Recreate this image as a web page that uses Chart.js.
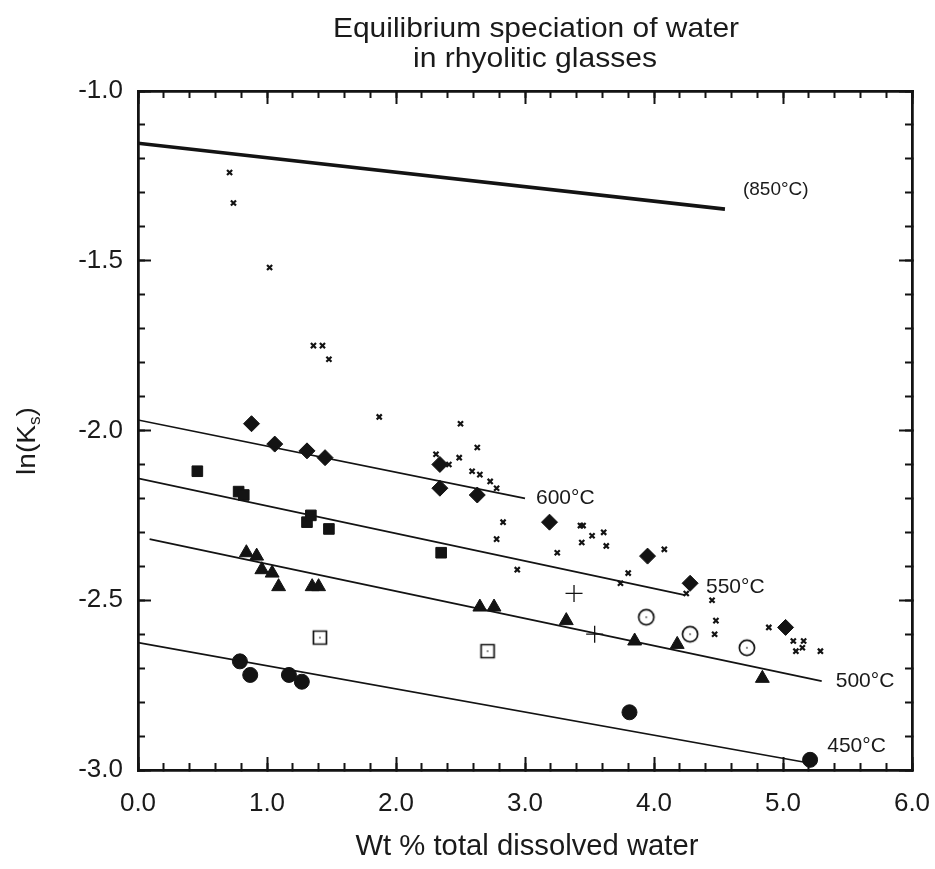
<!DOCTYPE html>
<html>
<head>
<meta charset="utf-8">
<title>Equilibrium speciation of water in rhyolitic glasses</title>
<script src="https://cdn.jsdelivr.net/npm/chart.js"></script>
<style>
  body { margin: 0; background: #fff; }
  #ks-chart { display: block; }
</style>
</head>
<body>
<canvas id="ks-chart" width="935" height="869"></canvas>
<script>
const titleLines = ['Equilibrium speciation of water', 'in rhyolitic glasses'];
const xTitle = 'Wt % total dissolved water';

// isotherm fits (two end points each)
const fitLabels = ['(850°C)', '600°C', '550°C', '500°C', '450°C'];
const fitX = [[0, 4.55], [0, 3.0], [0, 4.24], [0.09, 5.30], [0, 5.18]];
const fitY = [[-1.154, -1.348], [-1.969, -2.20], [-2.141, -2.485], [-2.32, -2.738], [-2.625, -2.978]];

// filled diamonds
const diamondX = [0.88, 1.06, 1.31, 1.45, 2.34, 2.34, 2.63, 3.19, 3.95, 4.28, 5.02];
const diamondY = [-1.98, -2.04, -2.06, -2.08, -2.10, -2.17, -2.19, -2.27, -2.37, -2.45, -2.58];

// filled squares
const squareX = [0.46, 0.78, 0.82, 1.31, 1.34, 1.48, 2.35];
const squareY = [-2.12, -2.18, -2.19, -2.27, -2.25, -2.29, -2.36];

// filled triangles
const triangleX = [0.84, 0.92, 0.96, 1.04, 1.09, 1.35, 1.40, 2.65, 2.76, 3.32, 3.85, 4.18, 4.84];
const triangleY = [-2.36, -2.37, -2.41, -2.42, -2.46, -2.46, -2.46, -2.52, -2.52, -2.56, -2.62, -2.63, -2.73];

// filled circles
const circleX = [0.79, 0.87, 1.17, 1.27, 3.81, 5.21];
const circleY = [-2.68, -2.72, -2.72, -2.74, -2.83, -2.97];

// open squares / open circles / plus signs
const openSquareX = [1.41, 2.71];
const openSquareY = [-2.61, -2.65];
const openCircleX = [3.94, 4.28, 4.72];
const openCircleY = [-2.55, -2.60, -2.64];
const plusX = [3.38, 3.54];
const plusY = [-2.48, -2.60];

// small x marks
const crossX = [0.71, 0.74, 1.02, 1.36, 1.43, 1.48, 1.87, 2.50, 2.63, 2.31, 2.49, 2.41, 2.59, 2.65,
    2.73, 2.78, 2.83, 2.78, 2.94, 3.43, 3.45, 3.52, 3.61, 3.44, 3.63, 3.25, 4.08, 3.80, 3.74,
    4.25, 4.45, 4.48, 4.47, 4.89, 5.08, 5.16, 5.10, 5.15, 5.29];
const crossY = [-1.24, -1.33, -1.52, -1.75, -1.75, -1.79, -1.96, -1.98, -2.05, -2.07, -2.08, -2.10, -2.12, -2.13,
    -2.15, -2.17, -2.27, -2.32, -2.41, -2.28, -2.28, -2.31, -2.30, -2.33, -2.34, -2.36, -2.35, -2.42, -2.45,
    -2.48, -2.50, -2.56, -2.60, -2.58, -2.62, -2.62, -2.65, -2.64, -2.65];

const FONT = '"Liberation Sans", Arial, Helvetica, sans-serif';
const INK = '#131313';

function toPoints(xs, ys) {
    return xs.map((x, i) => ({ x: x, y: ys[i] }));
}

function openMarker(shape) {
    const c = document.createElement('canvas');
    c.width = 20;
    c.height = 20;
    const g = c.getContext('2d');
    g.strokeStyle = INK;
    g.lineWidth = 1.7;
    g.fillStyle = '#fff';
    g.beginPath();
    if (shape === 'circle') {
        g.arc(10, 10, 7.6, 0, Math.PI * 2);
    } else {
        g.rect(3.5, 3.5, 13, 13);
    }
    g.fill();
    g.stroke();
    g.fillStyle = '#555';
    g.beginPath();
    g.arc(10, 10, 0.9, 0, Math.PI * 2);
    g.fill();
    return c;
}

function markerSet(xs, ys, style, radius, extra) {
    return Object.assign({
        data: toPoints(xs, ys),
        pointStyle: style,
        pointRadius: radius,
        backgroundColor: INK,
        borderColor: INK,
        borderWidth: 1,
        showLine: false
    }, extra || {});
}

function fitSet(i) {
    return {
        data: toPoints(fitX[i], fitY[i]),
        showLine: true,
        borderColor: INK,
        borderWidth: i === 0 ? 3.6 : 1.7,
        pointRadius: 0
    };
}

// one linear axis; major/minor tick sets are separate axes so the lengths can differ
function makeAxis(position, min, max, step, tickLength, weight, size, labels, pad) {
    const vertical = position === 'left' || position === 'right';
    return {
        type: 'linear',
        position: position,
        min: min,
        max: max,
        weight: weight,
        grid: {
            drawOnChartArea: false,
            drawTicks: true,
            tickLength: tickLength,
            tickWidth: 2,
            color: INK,
            tickColor: INK
        },
        border: { display: true, color: INK, width: 2.5 },
        ticks: {
            display: labels,
            stepSize: step,
            autoSkip: false,
            maxRotation: 0,
            padding: pad || 0,
            color: '#1a1a1a',
            font: { family: FONT, size: 26 },
            callback: value => Number(value).toFixed(1)
        },
        afterFit: scale => {
            if (vertical) {
                scale.width = size;
                scale.paddingTop = 0;
                scale.paddingBottom = 0;
            } else {
                scale.height = size;
                scale.paddingLeft = 0;
                scale.paddingRight = 0;
            }
        }
    };
}

function drawFitted(ctx, text, cx, baseline, size, width) {
    ctx.save();
    ctx.font = size + 'px ' + FONT;
    const w = ctx.measureText(text).width;
    ctx.translate(cx, baseline);
    ctx.scale(width / w, 1);
    ctx.textAlign = 'center';
    ctx.textBaseline = 'alphabetic';
    ctx.fillText(text, 0, 0);
    ctx.restore();
}

const labelPlugin = {
    id: 'labels',
    afterDraw(chart) {
        const ctx = chart.ctx;
        const xs = chart.scales.x;
        const ys = chart.scales.y;
        ctx.save();
        ctx.fillStyle = '#1a1a1a';

        drawFitted(ctx, titleLines[0], 536, 37, 28, 406);
        drawFitted(ctx, titleLines[1], 535, 67, 28, 244);
        drawFitted(ctx, xTitle, 527, 855, 29, 343);

        // y title: ln(K_s), rotated
        ctx.save();
        ctx.translate(35, 441);
        ctx.rotate(-Math.PI / 2);
        ctx.scale(1.08, 1);
        ctx.textBaseline = 'alphabetic';
        ctx.textAlign = 'left';
        const big = '26px ' + FONT;
        const small = '16px ' + FONT;
        ctx.font = big;
        const w1 = ctx.measureText('ln(K').width;
        const w3 = ctx.measureText(')').width;
        ctx.font = small;
        const w2 = ctx.measureText('s').width;
        let px = -(w1 + w2 + w3) / 2;
        ctx.font = big;
        ctx.fillText('ln(K', px, 0);
        px += w1;
        ctx.font = small;
        ctx.fillText('s', px, 5);
        px += w2;
        ctx.font = big;
        ctx.fillText(')', px, 0);
        ctx.restore();

        // isotherm labels next to the line ends
        const offsets = [[18, -19], [11, 0], [21, -8], [14, 0], [21, -16]];
        ctx.textAlign = 'left';
        ctx.textBaseline = 'middle';
        fitLabels.forEach((label, i) => {
            const ex = xs.getPixelForValue(fitX[i][1]);
            const ey = ys.getPixelForValue(fitY[i][1]);
            ctx.font = (i === 0 ? 19 : 21) + 'px ' + FONT;
            ctx.fillText(label, ex + offsets[i][0], ey + offsets[i][1]);
        });
        ctx.restore();
    }
};

let chart;

function initializeChart() {
    const ctx = document.getElementById('ks-chart').getContext('2d');
    chart = new Chart(ctx, {
        type: 'scatter',
        data: {
            datasets: [
                fitSet(0), fitSet(1), fitSet(2), fitSet(3), fitSet(4),
                markerSet(diamondX, diamondY, 'rectRot', 8),
                markerSet(squareX, squareY, 'rect', 7.5),
                markerSet(triangleX, triangleY, 'triangle', 8),
                markerSet(circleX, circleY, 'circle', 7.5),
                markerSet(openSquareX, openSquareY, openMarker('square'), 8),
                markerSet(openCircleX, openCircleY, openMarker('circle'), 8),
                markerSet(plusX, plusY, 'cross', 8.5, { borderWidth: 1.3 }),
                markerSet(crossX, crossY, 'crossRot', 3.6, { borderWidth: 2.2 })
            ]
        },
        options: {
            responsive: false,
            animation: false,
            events: [],
            layout: { padding: { top: 91, right: 23, left: 0, bottom: 0 } },
            plugins: {
                legend: { display: false },
                tooltip: { enabled: false },
                title: { display: false }
            },
            scales: {
                x: makeAxis('bottom', 0, 6, 1, -13, 1, 99, true, 31),
                xMinor: makeAxis('bottom', 0, 6, 0.2, -7, 0, 0, false),
                xTop: makeAxis('top', 0, 6, 1, -13, 1, 0, false),
                xTopMinor: makeAxis('top', 0, 6, 0.2, -7, 0, 0, false),
                y: makeAxis('left', -3, -1, 0.5, -13, 1, 138, true, 28),
                yMinor: makeAxis('left', -3, -1, 0.1, -7, 0, 0, false),
                yRight: makeAxis('right', -3, -1, 0.5, -13, 1, 0, false),
                yRightMinor: makeAxis('right', -3, -1, 0.1, -7, 0, 0, false)
            }
        },
        plugins: [labelPlugin]
    });
}

window.addEventListener('load', () => {
    initializeChart();
});
</script>
</body>
</html>
